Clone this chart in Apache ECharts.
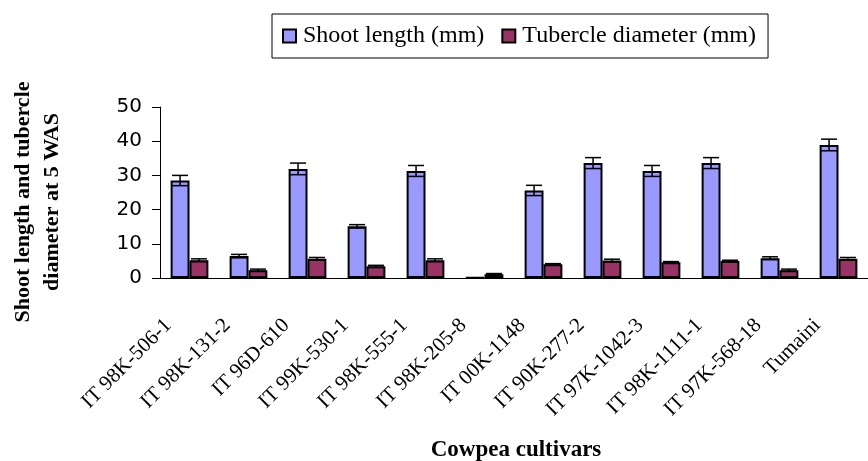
<!DOCTYPE html>
<html>
<head>
<meta charset="utf-8">
<script src="https://cdn.jsdelivr.net/npm/echarts@6/dist/echarts.min.js"></script>
<style>html,body{margin:0;padding:0;background:#fff;}#c{width:868px;height:461px;}</style>
</head>
<body>
<div id="c"></div>
<script>
var categories = ['IT 98K-506-1','IT 98K-131-2','IT 96D-610','IT 99K-530-1','IT 98K-555-1','IT 98K-205-8','IT 00K-1148','IT 90K-277-2','IT 97K-1042-3','IT 98K-1111-1','IT 97K-568-18','Tumaini'];
var shootLength = [28.5, 6.4, 31.9, 15.1, 31.3, 0.1, 25.6, 33.6, 31.3, 33.6, 5.8, 38.9];
var shootErr = [1.5, 0.5, 1.7, 0.5, 1.6, 0, 1.5, 1.6, 1.6, 1.6, 0.4, 1.7];
var tubercleDiam = [5.2, 2.3, 5.6, 3.4, 5.2, 1.1, 4.0, 5.1, 4.6, 5.0, 2.3, 5.6];
var tubercleErr = [0.4, 0.3, 0.4, 0.3, 0.4, 0.2, 0.2, 0.4, 0.2, 0.2, 0.3, 0.4];
var yTicks = {min: 0, max: 50, interval: 10};

var chart = echarts.init(document.getElementById('c'), null, {renderer: 'canvas'});

function errData(vals, errs) {
  return vals.map(function (v, i) { return [i, v - errs[i], v + errs[i]]; });
}
function errSeries(vals, errs, sign) {
  return {
    type: 'custom',
    z: 10,
    silent: true,
    data: errData(vals, errs),
    encode: {x: 0, y: [1, 2]},
    renderItem: function (params, api) {
      var idx = api.value(0);
      var lo = api.coord([idx, api.value(1)]);
      var hi = api.coord([idx, api.value(2)]);
      var band = api.size([1, 0])[0];
      var x = lo[0] + sign * band * 0.16;
      var hw = 8;
      if (Math.abs(lo[1] - hi[1]) < 0.5) return null;
      var st = {stroke: '#000', lineWidth: 1.5};
      return {
        type: 'group',
        children: [
          {type: 'line', shape: {x1: x, y1: lo[1], x2: x, y2: hi[1]}, style: st},
          {type: 'line', shape: {x1: x - hw, y1: lo[1], x2: x + hw, y2: lo[1]}, style: st},
          {type: 'line', shape: {x1: x - hw, y1: hi[1], x2: x + hw, y2: hi[1]}, style: st}
        ]
      };
    }
  };
}

var option = {
  animation: false,
  backgroundColor: '#fff',
  legend: {
    left: 272, top: 14,
    padding: [10, 12, 10, 10],
    borderColor: '#000', borderWidth: 1,
    itemWidth: 13, itemHeight: 13, itemGap: 17,
    textStyle: {fontFamily: 'Liberation Serif', fontSize: 24, color: '#000', padding: [0, 0, 0, 2]},
    data: [
      {name: 'Shoot length (mm)', icon: 'rect'},
      {name: 'Tubercle diameter (mm)', icon: 'rect'}
    ]
  },
  grid: {left: 160, top: 107, width: 713, bottom: 183},
  xAxis: {
    type: 'category',
    data: categories,
    axisLine: {lineStyle: {color: '#000', width: 1}},
    axisTick: {length: 5, lineStyle: {color: '#000'}},
    axisLabel: {
      interval: 0, rotate: 45, margin: 23,
      padding: [0, 30, 0, 0],
      fontFamily: 'Liberation Serif', fontSize: 21, color: '#000'
    }
  },
  yAxis: {
    type: 'value',
    min: yTicks.min, max: yTicks.max, interval: yTicks.interval,
    axisLine: {show: true, lineStyle: {color: '#000', width: 1}},
    axisTick: {show: true, length: 8, lineStyle: {color: '#000'}},
    splitLine: {show: false},
    axisLabel: {margin: 18, fontFamily: 'DejaVu Sans', fontSize: 20, color: '#000'}
  },
  graphic: [
    {
      type: 'text', x: 38, y: 202, rotation: Math.PI / 2,
      style: {
        text: 'Shoot length and tubercle\ndiameter at 5 WAS',
        font: 'bold 22px "Liberation Serif"', fill: '#000',
        align: 'center', verticalAlign: 'middle', lineHeight: 29
      }
    },
    {
      type: 'text', x: 516, y: 450,
      style: {
        text: 'Cowpea cultivars',
        font: 'bold 23px "Liberation Serif"', fill: '#000',
        align: 'center', verticalAlign: 'middle'
      }
    }
  ],
  series: [
    {
      name: 'Shoot length (mm)', type: 'bar', data: shootLength,
      barWidth: '32%', barGap: '0%',
      itemStyle: {color: '#9999FF', borderColor: '#000', borderWidth: 2}
    },
    {
      name: 'Tubercle diameter (mm)', type: 'bar', data: tubercleDiam,
      barWidth: '32%', barGap: '0%',
      itemStyle: {color: '#993366', borderColor: '#000', borderWidth: 2}
    },
    errSeries(shootLength, shootErr, -1),
    errSeries(tubercleDiam, tubercleErr, 1)
  ]
};
chart.setOption(option);
</script>
</body>
</html>
